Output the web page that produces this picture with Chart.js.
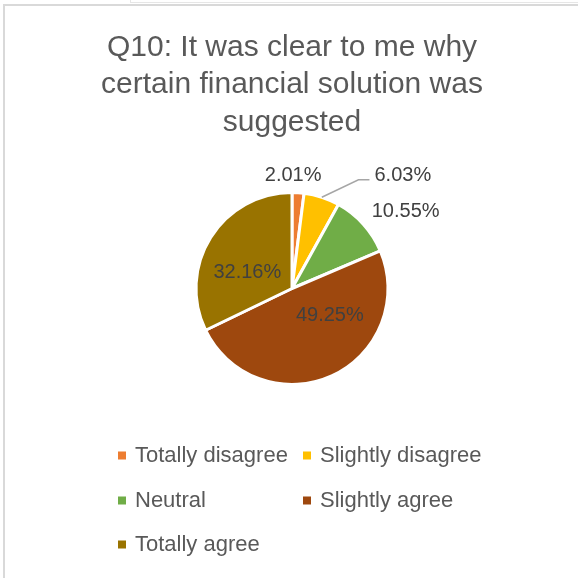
<!DOCTYPE html>
<html>
<head>
<meta charset="utf-8">
<script src="https://cdn.jsdelivr.net/npm/chart.js@4/dist/chart.umd.min.js"></script>
<style>
    html, body { margin: 0; padding: 0; background: #fff; }
    #contenedor { position: relative; width: 578px; height: 578px; overflow: hidden; }
    .marco { position: absolute; left: 3px; top: 4px; right: -4px; bottom: -4px;
             border-left: 2px solid #d9d9d9; border-top: 2px solid #d9d9d9; }
    .marco-atras { position: absolute; left: 130px; top: -2px; right: -4px; height: 4px;
                   border-left: 1px solid #e6e6e6; border-bottom: 1px solid #e6e6e6; }
    canvas { position: absolute; left: 0; top: 0; }
</style>
</head>
<body>
<div id="contenedor">
    <div class="marco-atras"></div>
    <div class="marco"></div>
    <canvas id="myChart" width="578" height="578"></canvas>
</div>
<script>
let categorias = ['Totally disagree', 'Slightly disagree', 'Neutral', 'Slightly agree', 'Totally agree'];
let porcentajes = [2.01, 6.03, 10.55, 49.25, 32.16];
let titulo = ['Q10: It was clear to me why', 'certain financial solution was', 'suggested'];

let colores = ['#ED7D31', '#FFC000', '#70AD47', '#9E480E', '#997300'];

// where each percentage goes: k = fraction of the radius along the slice middle, then a nudge
let posEtiquetas = [
    {k: 1.18, dx: -6, dy: 0},
    {k: 1.0, dx: 81, dy: -22, guia: true},
    {k: 1.3, dx: 21, dy: 7},
    {k: 0.5, dx: 18, dy: -17},
    {k: 0.5, dx: -4, dy: 10}
];

// legend grid (two columns, Excel style)
let leyendaCols = [118, 303];
let leyendaFilas = [455.5, 500.5, 544.5];

let etiquetas = {
    id: 'etiquetas',
    afterDatasetsDraw(chart){
        let ctx = chart.ctx;
        let arcos = chart.getDatasetMeta(0).data;
        ctx.save();
        ctx.font = '20px "Liberation Sans", Arial, sans-serif';
        ctx.textAlign = 'center';
        ctx.textBaseline = 'middle';
        for(let i = 0; i < arcos.length; i++){
            let a = arcos[i].getProps(['x', 'y', 'startAngle', 'endAngle', 'outerRadius'], true);
            let medio = (a.startAngle + a.endAngle) / 2;
            let p = posEtiquetas[i];
            let bx = a.x + Math.cos(medio) * a.outerRadius * p.k;
            let by = a.y + Math.sin(medio) * a.outerRadius * p.k;
            let x = bx + p.dx;
            let y = by + p.dy;
            let texto = porcentajes[i].toFixed(2) + '%';
            if(p.guia){
                let izq = x - ctx.measureText(texto).width / 2;
                ctx.strokeStyle = '#a6a6a6';
                ctx.lineWidth = 1.5;
                ctx.beginPath();
                ctx.moveTo(bx, by);
                ctx.lineTo(izq - 16, y + 4.5);
                ctx.lineTo(izq - 5, y + 4.5);
                ctx.stroke();
            }
            ctx.fillStyle = '#404040';
            ctx.fillText(texto, x, y);
        }
        ctx.restore();
    }
};

let leyenda = {
    id: 'leyenda',
    afterDraw(chart){
        let ctx = chart.ctx;
        let fondo = chart.data.datasets[0].backgroundColor;
        ctx.save();
        ctx.font = '22px "Liberation Sans", Arial, sans-serif';
        ctx.textBaseline = 'middle';
        ctx.textAlign = 'left';
        for(let i = 0; i < chart.data.labels.length; i++){
            let x = leyendaCols[i % 2];
            let y = leyendaFilas[Math.floor(i / 2)];
            ctx.fillStyle = fondo[i];
            ctx.fillRect(x, y - 4, 8, 8);
            ctx.fillStyle = '#595959';
            ctx.fillText(chart.data.labels[i], x + 17, y);
        }
        ctx.restore();
    }
};

new Chart('myChart', {
    type: 'pie',
    data: {
        labels: categorias,
        datasets: [{
            data: porcentajes,
            backgroundColor: colores,
            borderColor: '#ffffff',
            borderWidth: 3
        }]
    },
    options: {
        responsive: false,
        animation: false,
        radius: 96,
        layout: { padding: { left: 6, right: 0, top: 0, bottom: 142.25 } },
        plugins: {
            legend: { display: false },
            tooltip: { enabled: false },
            title: {
                display: true,
                text: titulo,
                color: '#595959',
                font: { family: '"Liberation Sans", Arial, sans-serif', size: 30, weight: 'normal', lineHeight: 1.25 },
                padding: { top: 28.75, bottom: 0 }
            }
        }
    },
    plugins: [etiquetas, leyenda]
});
</script>
</body>
</html>
